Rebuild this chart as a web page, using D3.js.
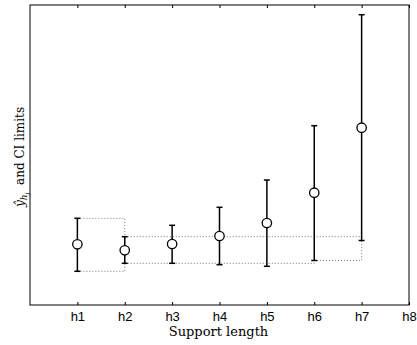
<!doctype html>
<html lang="en">
<head>
  <meta charset="utf-8">
  <script src="https://d3js.org/d3.v7.min.js"></script>
  <style>
    html, body { margin: 0; padding: 0; background: #fff; }
    svg { display: block; }
    .tick text { font-family: "Liberation Sans", Arial, sans-serif; font-size: 13px; fill: #000; }
    .label { font-family: "DejaVu Serif", "Liberation Serif", serif; font-size: 13px; fill: #000; }
  </style>
</head>
<body>
<script>
  // support lengths h1..h7 and the estimate with its CI limits
  var supports = [1, 2, 3, 4, 5, 6, 7];
  var estimate = [6.07, 5.47, 6.10, 6.90, 8.20, 11.23, 17.73];
  var lower = [3.37, 4.17, 4.17, 4.03, 3.87, 4.45, 6.45];
  var upper = [8.67, 6.83, 7.97, 9.77, 12.50, 17.93, 29.03];
  var tickValues = [1, 2, 3, 4, 5, 6, 7, 8];
  var tickLabels = ["h1", "h2", "h3", "h4", "h5", "h6", "h7", "h8"];
  // intersection-of-intervals runs (first and last index of each run)
  var runs = [[0, 1], [1, 6]];

  var W = 417, H = 345;
  var margin = {top: 5, right: 8, bottom: 40, left: 30};
  var width = W - margin.left - margin.right,
      height = H - margin.top - margin.bottom;

  var x = d3.scaleLinear().domain([0, 8]).range([0, width]);
  var y = d3.scaleLinear().domain([0, 30]).range([height, 0]);

  var svg = d3.select("body").append("svg")
    .attr("width", W)
    .attr("height", H);

  var g = svg.append("g")
    .attr("transform", "translate(" + margin.left + "," + margin.top + ")");

  // dotted staircase of the running intersection
  var line = d3.line()
    .x(function(d) { return x(d[0]); })
    .y(function(d) { return y(d[1]); })
    .curve(d3.curveStepAfter);

  runs.forEach(function(r) {
    var lo = [], hi = [], curLo = -Infinity, curHi = Infinity;
    for (var i = r[0]; i <= r[1]; i++) {
      curLo = Math.max(curLo, lower[i]);
      curHi = Math.min(curHi, upper[i]);
      lo.push([supports[i], curLo]);
      hi.push([supports[i], curHi]);
    }
    var end = supports[r[1]];
    [lo, hi, [[end, curLo], [end, curHi]]].forEach(function(pts) {
      g.append("path")
        .attr("d", line(pts))
        .attr("fill", "none")
        .attr("stroke", "#777")
        .attr("stroke-width", 1)
        .attr("stroke-dasharray", "1,2");
    });
  });

  // error bars
  var bars = g.append("g").selectAll("g")
    .data(supports)
    .enter().append("g");

  bars.append("line")
    .attr("x1", function(d) { return x(d); })
    .attr("x2", function(d) { return x(d); })
    .attr("y1", function(d, i) { return y(lower[i]); })
    .attr("y2", function(d, i) { return y(upper[i]); })
    .attr("stroke", "#000")
    .attr("stroke-width", 1.5);

  [lower, upper].forEach(function(arr) {
    bars.append("line")
      .attr("x1", function(d) { return x(d) - 3; })
      .attr("x2", function(d) { return x(d) + 3; })
      .attr("y1", function(d, i) { return y(arr[i]); })
      .attr("y2", function(d, i) { return y(arr[i]); })
      .attr("stroke", "#000")
      .attr("stroke-width", 1.5);
  });

  bars.append("circle")
    .attr("cx", function(d) { return x(d); })
    .attr("cy", function(d, i) { return y(estimate[i]); })
    .attr("r", 4.7)
    .attr("fill", "#fff")
    .attr("stroke", "#000")
    .attr("stroke-width", 1.3);

  // axes: ticks inward, bottom labels only
  var xb = g.append("g")
    .attr("transform", "translate(0," + height + ")")
    .call(d3.axisBottom(x).tickValues(tickValues)
      .tickFormat(function(d, i) { return tickLabels[i]; })
      .tickSizeInner(-3).tickSizeOuter(0).tickPadding(7));
  xb.select(".domain").remove();
  xb.selectAll(".tick line").attr("stroke", "#000");

  var xt = g.append("g")
    .call(d3.axisTop(x).tickValues(tickValues).tickFormat("")
      .tickSizeInner(-3).tickSizeOuter(0));
  xt.select(".domain").remove();

  // frame
  g.append("rect")
    .attr("width", width)
    .attr("height", height)
    .attr("fill", "none")
    .attr("stroke", "#000")
    .attr("stroke-width", 1);

  // axis titles
  svg.append("text")
    .attr("class", "label")
    .attr("x", margin.left + width / 2 - 1)
    .attr("y", 336)
    .attr("text-anchor", "middle")
    .text("Support length");

  var yl = svg.append("text")
    .attr("class", "label")
    .attr("text-anchor", "middle")
    .style("font-size", "12px")
    .attr("transform", "translate(24,157) rotate(-90)");
  yl.append("tspan").style("font-style", "italic").text("ŷ");
  yl.append("tspan").style("font-style", "italic").style("font-size", "9px")
    .attr("dy", 3).text("h");
  yl.append("tspan").style("font-style", "italic").style("font-size", "6px")
    .attr("dy", 2).text("j");
  yl.append("tspan").attr("dy", -5).text("\u00a0 and CI limits");
</script>
</body>
</html>
